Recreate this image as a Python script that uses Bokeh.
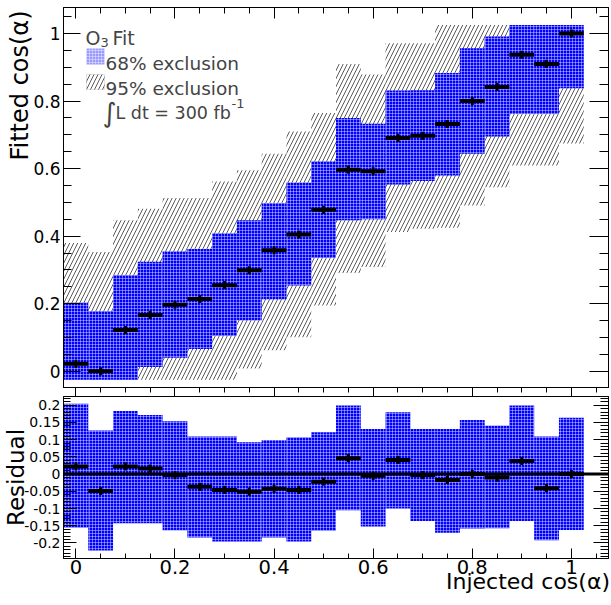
import numpy as np
from bokeh.plotting import figure
from bokeh.models import (Range1d, LinearAxis, FixedTicker, Label, Span,
                          BoxAnnotation, ColumnDataSource, PrintfTickFormatter,
                          CustomLabelingPolicy)
from bokeh.layouts import column
from bokeh.embed import file_html
from bokeh.resources import INLINE

# ---------------- data ----------------
injected = [0.0, 0.05, 0.1, 0.15, 0.2, 0.25, 0.3, 0.35, 0.4, 0.45, 0.5,
            0.55, 0.6, 0.65, 0.7, 0.75, 0.8, 0.85, 0.9, 0.95, 1.0]
fitted = [0.022, 0.0, 0.122, 0.167, 0.197, 0.214, 0.255, 0.299, 0.358, 0.405, 0.478,
          0.597, 0.592, 0.691, 0.697, 0.732, 0.800, 0.842, 0.937, 0.910, 1.000]
fit_err = [0.012, 0.012, 0.012, 0.012, 0.012, 0.012, 0.012, 0.012, 0.012, 0.012, 0.012,
           0.012, 0.012, 0.012, 0.012, 0.012, 0.012, 0.012, 0.012, 0.012, 0.012]
band68_lo = [-0.025, -0.025, -0.025, 0.013, 0.040, 0.066, 0.105, 0.151, 0.213, 0.254, 0.336,
             0.447, 0.450, 0.553, 0.563, 0.580, 0.644, 0.695, 0.762, 0.762, 0.838]
band68_hi = [0.203, 0.178, 0.284, 0.324, 0.355, 0.362, 0.408, 0.447, 0.498, 0.558, 0.621,
             0.750, 0.733, 0.831, 0.832, 0.883, 0.956, 0.991, 1.025, 1.025, 1.025]
band95_lo = [-0.025, -0.025, -0.025, -0.025, -0.025, -0.025, -0.025, 0.008, 0.062, 0.101, 0.195,
             0.291, 0.309, 0.412, 0.422, 0.425, 0.491, 0.545, 0.609, 0.609, 0.674]
band95_hi = [0.380, 0.353, 0.447, 0.481, 0.513, 0.513, 0.562, 0.595, 0.644, 0.710, 0.765,
             0.910, 0.879, 0.971, 0.971, 1.025, 1.025, 1.025, 1.025, 1.025, 1.025]
residual = [0.022, -0.049, 0.022, 0.016, -0.003, -0.037, -0.046, -0.051, -0.043, -0.046, -0.022,
            0.046, -0.005, 0.041, -0.003, -0.017, 0.0, -0.010, 0.038, -0.041, 0.0]
res_err = [0.012, 0.012, 0.012, 0.012, 0.012, 0.012, 0.012, 0.012, 0.012, 0.012, 0.012,
           0.012, 0.012, 0.012, 0.012, 0.012, 0.012, 0.012, 0.012, 0.012, 0.012]
res68_lo = [-0.155, -0.222, -0.143, -0.143, -0.163, -0.184, -0.196, -0.196, -0.184, -0.196, -0.164,
            -0.105, -0.152, -0.100, -0.136, -0.170, -0.158, -0.157, -0.136, -0.192, -0.162]
res68_hi = [0.204, 0.126, 0.183, 0.171, 0.153, 0.109, 0.109, 0.092, 0.099, 0.106, 0.121,
            0.199, 0.131, 0.179, 0.131, 0.131, 0.157, 0.140, 0.199, 0.109, 0.163]
bin_width = 0.05

x_ticks = [0.0, 0.2, 0.4, 0.6, 0.8, 1.0]
y_ticks = [0.0, 0.2, 0.4, 0.6, 0.8, 1.0]
res_ticks = [-0.2, -0.15, -0.1, -0.05, 0.0, 0.05, 0.1, 0.15, 0.2]

# ---------------- layout constants (page has no margin) ----------------
FONT = "DejaVu Sans"
W = 611
BL, BR = 63, 3
FW = W - BL - BR
XR = (-0.025, 1.075)
Y1 = (-0.048, 1.077)
T1, B1 = 7, 9
H1 = 396
FH1 = H1 - T1 - B1
Y2 = (-0.245, 0.225)
H2, B2 = 209, 47
FH2 = H2 - B2
BLUE = "#0000ff"

x_minor = [round(v, 3) for v in np.arange(-0.0, 1.076, 0.05)]
y_minor = [round(v, 3) for v in np.arange(-0.05, 1.081, 0.05)]
r_minor = [round(v, 3) for v in np.arange(-0.24, 0.226, 0.01)]


def dx(px):
    return XR[0] + (px - BL) / FW * (XR[1] - XR[0])


def dy1(py):
    return Y1[1] - (py - T1) / FH1 * (Y1[1] - Y1[0])


def style_axis(ax, tin, tmin, tout=0, tmout=0, size=None, standoff=0):
    ax.major_tick_in = tin
    ax.minor_tick_in = tmin
    ax.major_tick_out = tout
    ax.minor_tick_out = tmout
    ax.axis_line_color = "black"
    ax.major_tick_line_color = "black"
    ax.minor_tick_line_color = "black"
    ax.major_label_text_font = FONT
    ax.major_label_text_color = "black"
    ax.major_label_standoff = standoff
    ax.formatter = PrintfTickFormatter(format="%g")
    ax.axis_label_text_font = FONT
    ax.axis_label_text_font_style = "normal"
    ax.axis_label_text_color = "black"
    if size is None:
        ax.major_label_text_font_size = "0px"
        ax.major_label_policy = CustomLabelingPolicy(
            code="for (const i of indices) indices.unset(i)")
    else:
        ax.major_label_text_font_size = size
    return ax


def title_axis(text, size, center, standoff, vertical=False):
    """An axis whose only (tick) label is the title, centred on `center`,
    so that the title can be end-aligned as ROOT does."""
    ax = LinearAxis(ticker=FixedTicker(ticks=[center], minor_ticks=[]))
    ax.formatter = PrintfTickFormatter(format=text)
    ax.axis_line_color = None
    ax.major_tick_line_color = None
    ax.minor_tick_line_color = None
    ax.major_tick_in = 0
    ax.major_tick_out = 0
    ax.minor_tick_in = 0
    ax.minor_tick_out = 0
    ax.major_label_text_font = FONT
    ax.major_label_text_color = "black"
    ax.major_label_text_font_size = size
    ax.major_label_standoff = standoff
    if vertical:
        ax.major_label_orientation = "vertical"
    return ax


src = ColumnDataSource(dict(
    x=injected,
    left=[v - bin_width / 2 for v in injected],
    right=[v + bin_width / 2 for v in injected],
    fit=fitted,
    fit_lo=[f - e for f, e in zip(fitted, fit_err)],
    fit_hi=[f + e for f, e in zip(fitted, fit_err)],
    b68lo=band68_lo, b68hi=band68_hi, b95lo=band95_lo, b95hi=band95_hi,
    res=residual,
    res_lo=[r - e for r, e in zip(residual, res_err)],
    res_hi=[r + e for r, e in zip(residual, res_err)],
    r68lo=res68_lo, r68hi=res68_hi,
))

hatch68 = dict(fill_color=BLUE, hatch_pattern="+", hatch_color="white",
               hatch_alpha=0.4, hatch_scale=3, hatch_weight=1)
hatch95 = dict(fill_alpha=0, hatch_pattern="/", hatch_color="#5a5a5a",
               hatch_scale=8, hatch_weight=1)

# ---------------- upper panel ----------------
p1 = figure(width=W, height=H1, x_range=Range1d(*XR), y_range=Range1d(*Y1),
            output_backend="svg", toolbar_location=None,
            x_axis_location=None, y_axis_location=None,
            min_border_left=BL, min_border_right=BR, min_border_top=T1, min_border_bottom=B1)
p1.grid.visible = False
p1.outline_line_color = "black"
p1.background_fill_color = "white"
p1.border_fill_color = "white"

p1.add_layout(style_axis(LinearAxis(ticker=FixedTicker(ticks=y_ticks, minor_ticks=y_minor)),
                         17, 8, size="17px", standoff=3), "left")
p1.add_layout(title_axis("Fitted cos(α)", "24px", dy1(85), -3, vertical=True), "left")
p1.add_layout(style_axis(LinearAxis(ticker=FixedTicker(ticks=y_ticks, minor_ticks=y_minor)),
                         19, 9), "right")
p1.add_layout(style_axis(LinearAxis(ticker=FixedTicker(ticks=x_ticks, minor_ticks=x_minor)),
                         11, 6), "above")
p1.add_layout(style_axis(LinearAxis(ticker=FixedTicker(ticks=x_ticks, minor_ticks=x_minor)),
                         0, 0, tout=9, tmout=5), "below")

r95 = p1.quad(left="left", right="right", bottom="b95lo", top="b95hi", source=src,
              line_color=None, **hatch95)
r68 = p1.quad(left="left", right="right", bottom="b68lo", top="b68hi", source=src,
              line_color=None, **hatch68)
p1.segment(x0="left", x1="right", y0="fit", y1="fit", source=src,
           line_color="black", line_width=4)
p1.segment(x0="x", x1="x", y0="fit_lo", y1="fit_hi", source=src,
           line_color="black", line_width=3)

# legend (positions in page pixels, converted to data units)
p1.add_layout(Label(x=dx(85), y=dy1(37), text="O", text_font=FONT, text_font_size="19px",
                    text_baseline="alphabetic"))
p1.add_layout(Label(x=dx(100), y=dy1(42), text="3", text_font=FONT, text_font_size="13px",
                    text_baseline="alphabetic"))
p1.add_layout(Label(x=dx(112), y=dy1(37), text="Fit", text_font=FONT, text_font_size="19px",
                    text_baseline="alphabetic"))
p1.add_layout(BoxAnnotation(left=dx(86), right=dx(104), top=dy1(48), bottom=dy1(64),
                            line_color=None, **hatch68))
p1.add_layout(BoxAnnotation(left=dx(86), right=dx(104), top=dy1(74), bottom=dy1(89),
                            line_color="#404040", line_width=0.5, **hatch95))
p1.add_layout(Label(x=dx(105), y=dy1(63), text="68% exclusion", text_font=FONT,
                    text_font_size="18.5px", text_baseline="alphabetic"))
p1.add_layout(Label(x=dx(105), y=dy1(88), text="95% exclusion", text_font=FONT,
                    text_font_size="18.5px", text_baseline="alphabetic"))
p1.add_layout(Label(x=dx(102), y=dy1(112), text="∫", text_font=FONT,
                    text_font_size="27px", text_baseline="alphabetic"))
p1.add_layout(Label(x=dx(115), y=dy1(112), text="L dt = 300 fb", text_font=FONT,
                    text_font_size="17.5px", text_baseline="alphabetic"))
p1.add_layout(Label(x=dx(231), y=dy1(103), text="-1", text_font=FONT,
                    text_font_size="13px", text_baseline="alphabetic"))

# ---------------- lower panel ----------------
p2 = figure(width=W, height=H2, x_range=p1.x_range, y_range=Range1d(*Y2),
            output_backend="svg", toolbar_location=None,
            x_axis_location=None, y_axis_location=None,
            min_border_left=BL, min_border_right=BR, min_border_top=0, min_border_bottom=B2)
p2.grid.visible = False
p2.outline_line_color = "black"
p2.background_fill_color = "white"
p2.border_fill_color = "white"

left2 = style_axis(LinearAxis(ticker=FixedTicker(ticks=res_ticks, minor_ticks=r_minor)),
                   13, 7, size="14px", standoff=3)
left2.axis_label = "Residual"
left2.axis_label_text_font_size = "23px"
left2.axis_label_standoff = -8
p2.add_layout(left2, "left")
p2.add_layout(style_axis(LinearAxis(ticker=FixedTicker(ticks=res_ticks, minor_ticks=r_minor)),
                         15, 8), "right")
p2.add_layout(style_axis(LinearAxis(ticker=FixedTicker(ticks=x_ticks, minor_ticks=x_minor)),
                         10, 5, size="19.5px", standoff=1), "below")
p2.add_layout(title_axis("Injected cos(α)", "22px", dx(527.5), -8), "below")

p2.quad(left="left", right="right", bottom="r68lo", top="r68hi", source=src,
        line_color=None, **hatch68)
p2.add_layout(Span(location=0, dimension="width", line_color="black", line_width=3))
p2.segment(x0="left", x1="right", y0="res", y1="res", source=src,
           line_color="black", line_width=4)
p2.segment(x0="x", x1="x", y0="res_lo", y1="res_hi", source=src,
           line_color="black", line_width=3)

layout = column(p1, p2, spacing=0)
open("out.html", "w").write(file_html(layout, INLINE))
